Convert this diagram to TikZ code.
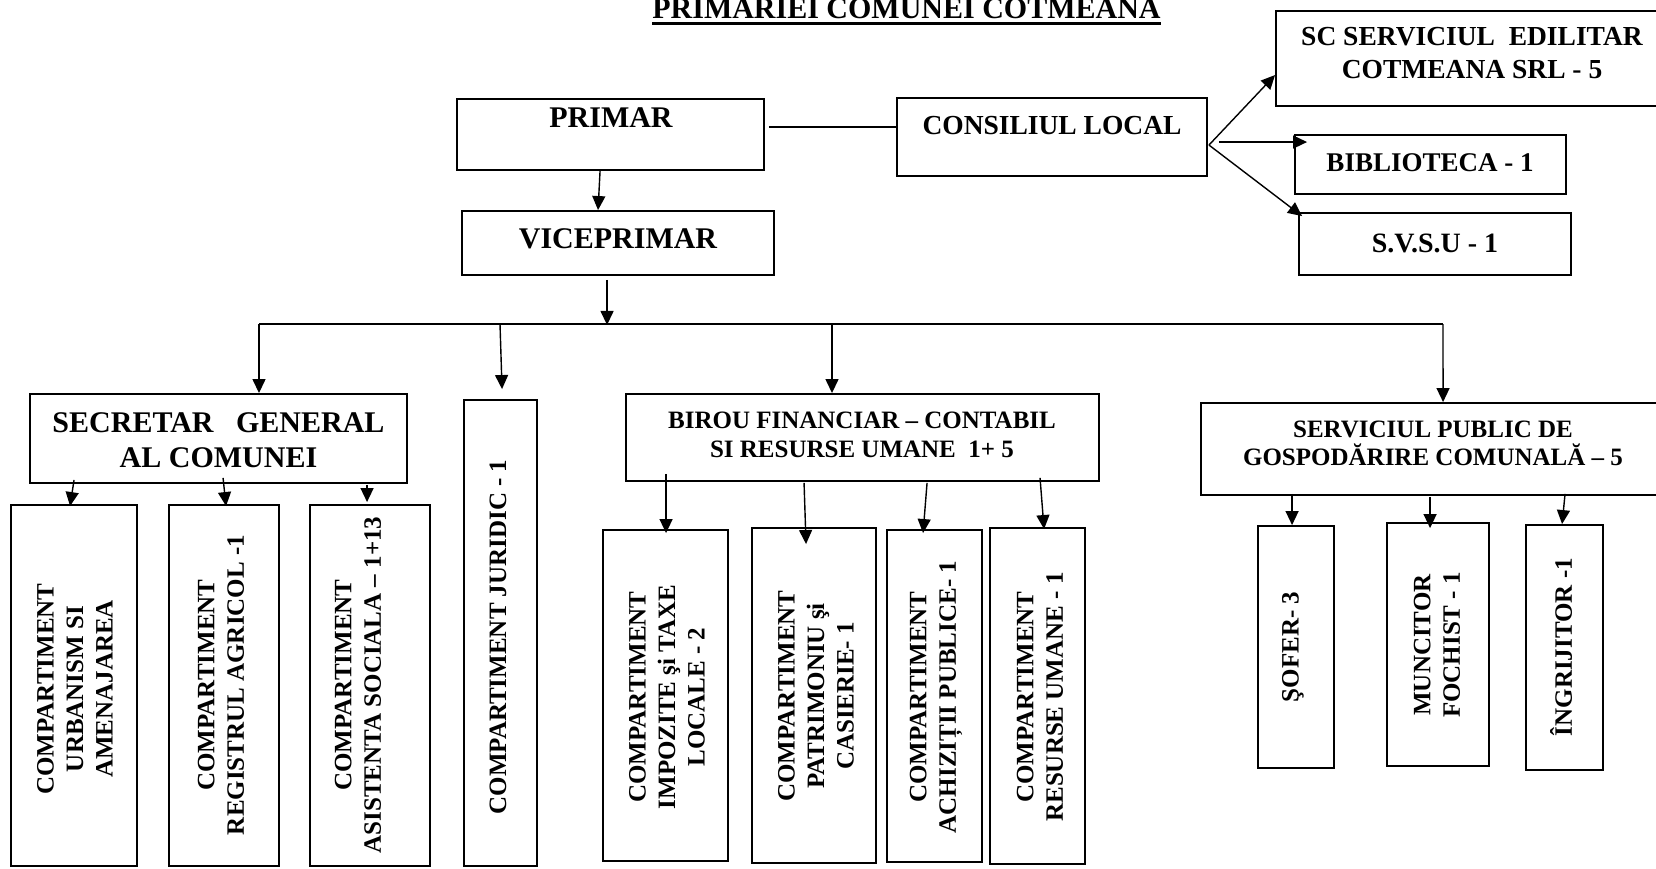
\documentclass[tikz,border=0pt]{standalone}
\usepackage{fontspec}
\setmainfont{Liberation Serif}
\usetikzlibrary{arrows.meta,fit,calc}
\begin{document}
\begin{tikzpicture}[x=1pt,y=-1pt,
  box/.style={draw,line width=1.9pt,inner sep=0pt},
  conn/.style={line width=1.4pt},
  arr/.style={line width=1.4pt,-{Triangle[length=14pt,width=13pt]}},
  tx/.style={inner sep=0pt,anchor=base,font=\bfseries\fontsize{#1}{#1}\selectfont},
  rot/.style={inner sep=0pt,rotate=90,align=center,font=\bfseries\fontsize{25}{29.5}\selectfont}]
\useasboundingbox (0,0) rectangle (1656,869);

% title
\node[tx=30] (title) at (906.5,19) {PRIMARIEI COMUNEI COTMEANA};
\draw[line width=2.5pt] ($(title.base west)+(0,4.5)$) -- ($(title.base east)+(0,4.5)$);

% top boxes
\node[box,fit={(457,99)(764,170)}] (primar) {};
\node[box,fit={(462,211)(774,275)}] (vice) {};
\node[box,fit={(897,98)(1207,176)}] (consiliu) {};
\node[box,fit={(1276,11)(1668,106)}] (sc) {};
\node[box,fit={(1295,135)(1566,194)}] (bib) {};
\node[box,fit={(1299,213)(1571,275)}] (svsu) {};

\node[tx=30] (primarT) at (611,128) {PRIMAR};
\node[tx=30] (viceT) at (618,248) {VICEPRIMAR};
\node[tx=27.5] (consiliuT) at (1052,135) {CONSILIUL LOCAL};
\node[tx=27.5] (scT1) at (1472,46) {SC SERVICIUL~~EDILITAR};
\node[tx=27.5] (scT2) at (1472,79) {COTMEANA SRL - 5};
\node[tx=27] (bibT) at (1430,172) {BIBLIOTECA - 1};
\node[tx=28] (svsuT) at (1435,252) {S.V.S.U - 1};

% middle boxes
\node[box,fit={(30,394)(407,483)}] (secretar) {};
\node[box,fit={(464,400)(537,866)}] (juridic) {};
\node[box,fit={(626,394)(1099,481)}] (birou) {};
\node[box,fit={(1201,403)(1665,495)}] (serv) {};

\node[tx=30] (secretarT1) at (218.5,432) {SECRETAR~~~GENERAL};
\node[tx=30] (secretarT2) at (218.5,467) {AL COMUNEI};
\node[tx=25] (birouT1) at (862,428) {BIROU FINANCIAR – CONTABIL};
\node[tx=25] (birouT2) at (862,457) {SI RESURSE UMANE~~1+ 5};
\node[tx=25] (servT1) at (1433,437) {SERVICIUL PUBLIC DE};
\node[tx=25] (servT2) at (1433,465) {GOSPODĂRIRE COMUNALĂ – 5};

% bottom boxes
\node[box,fit={(11,505)(137,866)}] (urb) {};
\node[box,fit={(169,505)(279,866)}] (reg) {};
\node[box,fit={(310,505)(430,866)}] (asist) {};
\node[box,fit={(603,530)(728,861)}] (impoz) {};
\node[box,fit={(752,528)(876,863)}] (patr) {};
\node[box,fit={(887,530)(982,862)}] (achiz) {};
\node[box,fit={(990,528)(1085,864)}] (resurse) {};
\node[box,fit={(1258,526)(1334,768)}] (sofer) {};
\node[box,fit={(1387,523)(1489,766)}] (munc) {};
\node[box,fit={(1526,525)(1603,770)}] (ingr) {};

\node[rot] (urbT) at (75,689) {COMPARTIMENT\\URBANISM SI\\AMENAJAREA};
\node[rot] (regT) at (221,685) {COMPARTIMENT\\REGISTRUL AGRICOL -1};
\node[rot] (asistT) at (358,685) {COMPARTIMENT\\ASISTENTA SOCIALA – 1+13};
\node[rot] (jurT) at (498,637) {COMPARTIMENT JURIDIC - 1};
\node[rot] (impozT) at (667,697) {COMPARTIMENT\\IMPOZITE şi TAXE\\LOCALE - 2};
\node[rot] (patrT) at (816,696) {COMPARTIMENT\\PATRIMONIU şi\\CASIERIE- 1};
\node[rot] (achizT) at (936,697) {COMPARTIMENT\\ACHIZIȚII PUBLICE- 1};
\node[rot] (resT) at (1040,697) {COMPARTIMENT\\RESURSE UMANE - 1};
\node[rot] (soferT) at (1293,647) {ŞOFER- 3};
\node[rot] (muncT) at (1437,645) {MUNCITOR\\FOCHIST - 1};
\node[rot] (ingrT) at (1561,647) {ÎNGRIJITOR -1};

% connectors top
\draw[arr] ($(primar.south west)+(144,0)$) -- ($(vice.north west)+(137,0)$);
\draw[conn] ($(primar.north east)+(4,29)$) -- ($(consiliu.north west)+(0,30)$);
\coordinate (cv) at ($(consiliu.north east)+(1,48)$);
\draw[arr] (cv) -- ($(sc.north west)+(0,65)$);
\draw[arr] ($(cv)+(10,-3)$) -- ($(bib.north west)+(13,8)$);
\draw[arr] (cv) -- ($(svsu.north west)+(4,4)$);

% bus
\coordinate (busL) at (259,324);
\coordinate (busR) at (1443,324);
\coordinate (busJ) at (500,324);
\coordinate (busB) at (832,324);
\draw[arr] ($(vice.south west)+(146,4)$) -- ($(vice.south west)+(146,49)$);
\draw[conn] (busL) -- (busR);
\draw[arr] (busL) -- (busL |- secretar.north);
\draw[arr] (busJ) -- ($(juridic.north west)+(39,-10)$);
\draw[arr] (busB) -- (busB |- birou.north);
\draw[arr] (busR) -- ($(serv.north west)+(243,0)$);

% secretar children
\draw[arr] ($(secretar.south west)+(45,-4)$) -- ($(urb.north west)+(60,2)$);
\draw[arr] ($(secretar.south west)+(194,-6)$) -- ($(reg.north west)+(58,2)$);
\draw[arr] ($(secretar.south west)+(338,1)$) -- ($(asist.north west)+(58,-2)$);

% birou children
\draw[arr] ($(birou.south west)+(41,-8)$) -- ($(impoz.north west)+(64,4)$);
\draw[arr] ($(birou.south west)+(179,1)$) -- ($(patr.north west)+(55,17)$);
\draw[arr] ($(birou.south west)+(302,1)$) -- ($(achiz.north west)+(37,4)$);
\draw[arr] ($(birou.south west)+(415,-4)$) -- ($(resurse.north west)+(55,2)$);

% serviciu children
\draw[arr] ($(serv.south west)+(92,-2)$) -- ($(sofer.north west)+(35,0)$);
\draw[arr] ($(serv.south west)+(230,1)$) -- ($(munc.north west)+(44,6)$);
\draw[arr] ($(serv.south west)+(365,-2)$) -- ($(ingr.north west)+(37,0)$);
\end{tikzpicture}
\end{document}
